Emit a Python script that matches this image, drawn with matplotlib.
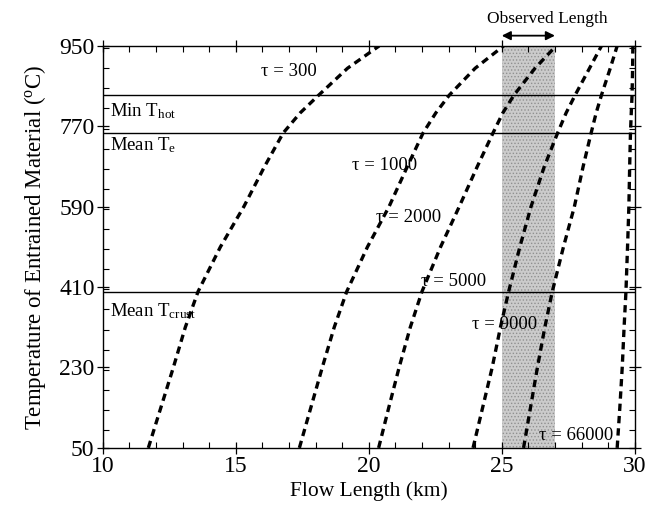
import matplotlib
matplotlib.use("Agg")
import matplotlib.pyplot as plt
from matplotlib.ticker import MultipleLocator

plt.rcParams['font.family'] = ['Liberation Serif', 'DejaVu Serif']
plt.rcParams['mathtext.fontset'] = 'custom'
plt.rcParams['mathtext.rm'] = 'Liberation Serif'
plt.rcParams['mathtext.it'] = 'Liberation Serif:italic'
plt.rcParams['hatch.color'] = '#8a8a8a'
plt.rcParams['hatch.linewidth'] = 0.6

# Data
temps = [50, 140, 230, 320, 400, 500, 590, 680, 755, 800, 840, 900, 950]
tau_labels = ["300", "1000", "2000", "5000", "9000", "66000"]
len_300 = [11.71, 12.18, 12.65, 13.10, 13.58, 14.42, 15.30, 16.08, 16.78, 17.42, 18.12, 19.20, 20.39]
len_1000 = [17.39, 17.82, 18.25, 18.70, 19.17, 19.95, 20.76, 21.45, 22.04, 22.52, 23.03, 24.00, 25.07]
len_2000 = [20.37, 20.75, 21.14, 21.56, 22.00, 22.70, 23.40, 24.08, 24.67, 25.04, 25.46, 26.25, 27.04]
len_5000 = [23.92, 24.28, 24.64, 24.95, 25.26, 25.68, 26.10, 26.60, 27.10, 27.42, 27.76, 28.30, 28.75]
len_9000 = [25.82, 26.08, 26.34, 26.62, 26.90, 27.32, 27.73, 28.06, 28.36, 28.55, 28.75, 29.08, 29.34]
len_66000 = [29.34, 29.44, 29.53, 29.60, 29.67, 29.73, 29.78, 29.81, 29.84, 29.87, 29.90, 29.92, 29.93]
curves = [len_300, len_1000, len_2000, len_5000, len_9000, len_66000]

ref_temps = [840, 755, 400]
ref_names = [r"Min T$_{\mathrm{hot}}$", r"Mean T$_{\mathrm{e}}$", r"Mean T$_{\mathrm{crust}}$"]
obs_range = [25, 27]
yticks = [50, 230, 410, 590, 770, 950]
xticks = [10, 15, 20, 25, 30]

fig = plt.figure(figsize=(6.51, 5.16), dpi=100)
ax = fig.add_axes([0.158, 0.132, 0.817, 0.779])

ax.axvspan(obs_range[0], obs_range[1], facecolor='#cbcbcb', edgecolor='#909090',
           hatch='.....', linewidth=0, zorder=1)

for t in ref_temps:
    ax.axhline(t, color='black', linewidth=1.0, zorder=2)

for c in curves:
    ax.plot(c, temps, color='black', linewidth=2.4, linestyle=(0, (2.2, 1.5)),
            dash_capstyle='butt', zorder=3)

# curve labels
lab_pos = [(17.0, 892), (20.6, 682), (21.5, 566), (23.2, 423), (25.1, 327), (27.8, 77)]
for lab, (x, y) in zip(tau_labels, lab_pos):
    ax.text(x, y, "τ = " + lab, fontsize=13.5, ha='center', va='center', zorder=4)

# reference line labels
ref_lab_y = [805, 728, 356]
for name, y in zip(ref_names, ref_lab_y):
    ax.text(10.28, y, name, fontsize=13.5, ha='left', va='center', zorder=4)

# observed length
ax.annotate("", xy=(obs_range[0], 973), xytext=(obs_range[1], 973),
            arrowprops=dict(arrowstyle='<|-|>', color='black', lw=1.3,
                            mutation_scale=13, shrinkA=0, shrinkB=0),
            annotation_clip=False)
ax.text(26.7, 1010, "Observed Length", fontsize=12.5, ha='center', va='center')

ax.set_xlim(10, 30)
ax.set_ylim(50, 950)
ax.set_xticks(xticks)
ax.set_yticks(yticks)
ax.xaxis.set_minor_locator(MultipleLocator(1))
ax.yaxis.set_minor_locator(MultipleLocator(45))
ax.tick_params(which='major', direction='inout', length=8, width=0.9,
               top=True, right=True, labelsize=17, pad=2)
ax.tick_params(which='minor', direction='in', length=4, width=0.8,
               top=True, right=True)
for s in ax.spines.values():
    s.set_linewidth(1.0)

ax.set_xlabel("Flow Length (km)", fontsize=15.5, labelpad=3)
ax.set_ylabel(r"Temperature of Entrained Material ($^{\mathrm{o}}$C)", fontsize=16.5, labelpad=8)

fig.savefig("out.png", dpi=100)
